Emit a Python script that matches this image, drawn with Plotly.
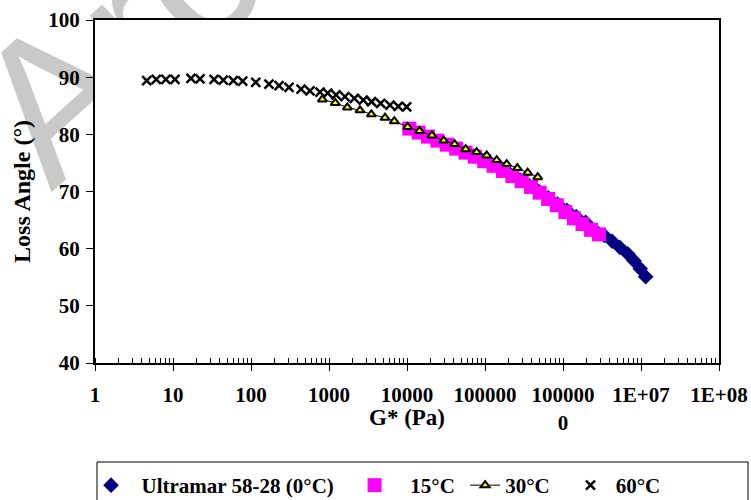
import plotly.graph_objects as go

# Ultramar 58-28 binder, complex modulus G* (Pa) vs loss angle (deg)
g_0c = [70800, 93300, 123000, 162200, 213800, 281800, 371500, 489800, 645700,
        851100, 1122000, 1479000, 1950000, 2570000, 3388000, 4266000, 5370000,
        6761000, 8128000, 9772000, 11480000]
angle_0c = [76.2, 75.4, 74.6, 73.8, 72.9, 72.0, 71.0, 70.0, 68.9,
            67.8, 66.7, 65.6, 64.6, 63.2, 62.3, 61.3, 60.2,
            59.1, 57.9, 56.5, 55.1]

g_15c = [10700, 14100, 18600, 24500, 32400, 42700, 56200, 74100, 97700,
         128800, 169800, 223900, 295100, 389000, 501200, 645700, 831800,
         1071500, 1380400, 1778300, 2290900, 2884000]
angle_15c = [81.0, 80.3, 79.6, 78.9, 78.2, 77.5, 76.8, 76.1, 75.3,
             74.5, 73.6, 72.7, 71.8, 70.8, 69.8, 68.7, 67.6,
             66.4, 65.3, 64.3, 63.3, 62.5]

g_30c = [822, 1202, 1718, 2495, 3491, 5224, 6871, 10190, 14450, 20890,
         29510, 40740, 56490, 78160, 105200, 141300, 189700, 260000,
         352400, 474200]
angle_30c = [86.1, 85.5, 84.7, 84.2, 83.5, 82.9, 82.3, 81.3, 80.6, 79.8,
             78.9, 78.3, 77.4, 76.9, 76.3, 75.5, 74.8, 74.1, 73.3, 72.5]

g_60c = [4.6, 6.1, 8.1, 10.6, 17.0, 22.2, 33.6, 44.2, 59.4, 78.2, 115, 170,
         229, 307, 438, 570, 767, 962, 1230, 1600, 2110, 2750, 3520, 4600,
         6050, 7740, 9900]
angle_60c = [89.4, 89.6, 89.6, 89.6, 89.8, 89.7, 89.6, 89.5, 89.4, 89.3,
             89.1, 88.8, 88.5, 88.2, 87.9, 87.6, 87.4, 87.2, 86.9, 86.6,
             86.3, 86.0, 85.7, 85.4, 85.1, 84.9, 84.8]

x_tick_vals = [1, 10, 100, 1000, 10000, 100000, 1000000, 10000000, 100000000]
x_tick_text = ["1", "10", "100", "1000", "10000", "100000", "100000<br>0",
               "1E+07", "1E+08"]
y_tick_vals = [40, 50, 60, 70, 80, 90, 100]

WATERMARK = "Archive of SID"

FONT = "Liberation Serif"
NB = "\u00a0"

# figure geometry in pixels
W, H = 751, 500
ML, MR, MT, MB = 95, 32, 20, 137
PW, PH = W - ML - MR, H - MT - MB


def px_to_paper(px, py):
    return (px - ML) / PW, (H - MB - py) / PH


fig = go.Figure()

# empty base subplot (xy); the chart lives on x2/y2 so that its own plot
# background is painted over anything in the lower shape layer
fig.add_trace(go.Scatter(x=[None], y=[None], xaxis="x", yaxis="y",
                         showlegend=False, hoverinfo="skip"))

fig.add_trace(go.Scatter(
    x=g_0c, y=angle_0c, mode="markers", xaxis="x2", yaxis="y2",
    name=NB * 2 + "<b>Ultramar 58-28 (0°C)</b>" + NB * 3,
    marker=dict(symbol="diamond", size=12, color="#000080",
                line=dict(width=0))))
fig.add_trace(go.Scatter(
    x=g_15c, y=angle_15c, mode="markers", xaxis="x2", yaxis="y2",
    name=NB * 3 + "<b>15°C</b>" + NB,
    marker=dict(symbol="square", size=14, color="#FF00FF",
                line=dict(width=0))))
fig.add_trace(go.Scatter(
    x=g_30c, y=angle_30c, mode="lines+markers", xaxis="x2", yaxis="y2",
    name="<b>30°C</b>" + NB * 3,
    line=dict(color="black", width=1),
    marker=dict(symbol="triangle-up", size=8, color="#FFFF00",
                line=dict(color="black", width=2))))
fig.add_trace(go.Scatter(
    x=g_60c, y=angle_60c, mode="markers", xaxis="x2", yaxis="y2",
    name=NB + "<b>60°C</b>",
    marker=dict(symbol="x-thin", size=9, color="black",
                line=dict(color="black", width=2.5))))

fig.update_layout(
    xaxis=dict(domain=[0, 1], range=[0, 1], visible=False,
               fixedrange=True, automargin=False),
    yaxis=dict(domain=[0, 1], range=[0, 1], visible=False,
               fixedrange=True, automargin=False),
    xaxis2=dict(
        domain=[0, 1], anchor="y2",
        type="log", range=[0, 8], automargin=False,
        tickvals=x_tick_vals, ticktext=x_tick_text,
        ticks="outside", ticklen=6, tickwidth=1, tickcolor="black",
        ticklabelstandoff=6,
        minor=dict(ticks="inside", ticklen=5, tickwidth=1, tickcolor="black",
                   dtick="D1", showgrid=False),
        showline=True, linecolor="black", linewidth=2, mirror=True,
        showgrid=False, zeroline=False,
        tickfont=dict(family=FONT, size=21, color="black", weight="bold"),
    ),
    yaxis2=dict(
        domain=[0, 1], anchor="x2",
        range=[40, 100], tickvals=y_tick_vals, automargin=False,
        ticks="outside", ticklen=7, tickwidth=1, tickcolor="black",
        ticklabelstandoff=2,
        showline=True, linecolor="black", linewidth=2, mirror=True,
        showgrid=False, zeroline=False,
        tickfont=dict(family=FONT, size=21, color="black", weight="bold"),
        title=dict(text="<b>Loss Angle (°)</b>", standoff=11,
                   font=dict(family=FONT, size=24, color="black")),
    ),
)

# diagonal watermark in the lower layer (shows only outside the plot area)
wm_cx, wm_cy = px_to_paper(467, -301)
fig.add_shape(
    type="rect", xref="paper", yref="paper", layer="below",
    x0=wm_cx - 0.001, x1=wm_cx + 0.001, y0=wm_cy - 0.001, y1=wm_cy + 0.001,
    line=dict(width=0), fillcolor="rgba(0,0,0,0)",
    label=dict(text=WATERMARK, textangle=-42, textposition="middle center",
               font=dict(family="Liberation Sans", size=200,
                         color="#c9c9c9")))

# x-axis title sits beside the wrapped 1E+06 label
tx, ty = px_to_paper(407, 417)
fig.add_annotation(
    text="<b>G* (Pa)</b>", xref="paper", yref="paper", x=tx, y=ty,
    xanchor="center", yanchor="middle", showarrow=False,
    font=dict(family=FONT, size=23, color="black"))

# legend frame
lx0, ly0 = px_to_paper(97, 462)
lx1, ly1 = px_to_paper(748, 505)
fig.add_shape(
    type="rect", xref="paper", yref="paper",
    x0=lx0, x1=lx1, y0=ly0, y1=ly1,
    line=dict(color="black", width=1), fillcolor="rgba(0,0,0,0)")

fig.update_layout(
    width=W, height=H,
    margin=dict(l=ML, r=MR, t=MT, b=MB, autoexpand=False),
    paper_bgcolor="white", plot_bgcolor="white",
    font=dict(family=FONT, color="black"),
    legend=dict(
        orientation="h", xref="container", yref="container",
        x=0.1212, y=0.07, xanchor="left", yanchor="top",
        borderwidth=0, bgcolor="rgba(0,0,0,0)",
        font=dict(family=FONT, size=21, color="black"),
        itemwidth=30,
    ),
    showlegend=True,
)

fig.write_html("out.html")
